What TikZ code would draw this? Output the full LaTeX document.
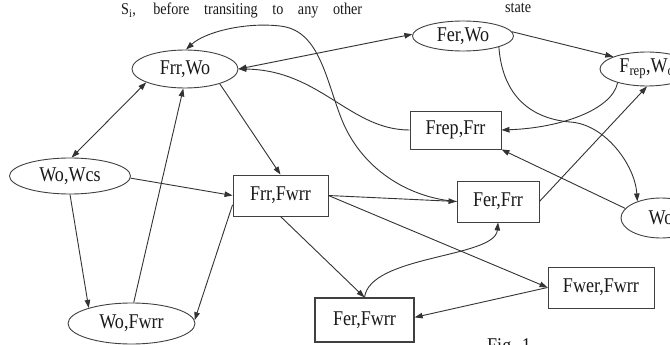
\documentclass[tikz,border=0pt]{standalone}
\usepackage{fontspec}
\setmainfont[FakeStretch=0.86]{Liberation Serif}
\usetikzlibrary{arrows.meta,shapes.geometric}
\begin{document}
\begin{tikzpicture}[x=1pt,y=-1pt,
  every node/.style={font=\fontsize{21}{25}\selectfont, inner sep=0pt, text=black!90},
  stnode/.style={draw=black!75, line width=0.9pt, ellipse},
  stbox/.style={draw=black!75, line width=0.9pt, rectangle},
  conn/.style={draw=black!80, line width=0.9pt, -{Triangle[length=8pt,width=5.5pt]}},
  conn2/.style={draw=black!80, line width=0.9pt, {Triangle[length=8pt,width=5.5pt]}-{Triangle[length=8pt,width=5.5pt]}},
  small/.style={font=\fontsize{16.5}{19}\selectfont}
]
\clip (0,0) rectangle (670,345);
\fill[white] (0,0) rectangle (670,345);

% page text
\node[small, anchor=base west] (hdr) at (121,15) {\makebox[241pt][s]{S\textsubscript{i}, before transiting to any other}};
\node[small, anchor=base west] (hdr2) at (505,13) {state};
\node[anchor=north west] (fig) at (487,338) {Fig. 1};

% ellipses
\node[stnode, minimum width=106pt, minimum height=38pt] (frrwo) at (185,69) {Frr,Wo};
\node[stnode, minimum width=101pt, minimum height=30pt] (ferwo) at (463,36) {Fer,Wo};
\node[stnode, minimum width=94pt, minimum height=34pt] (frepwo) at (647,69) {F\textsubscript{rep},W\textsubscript{o}};
\node[stnode, minimum width=80pt, minimum height=40pt] (wo) at (661,218) {Wo};
\node[stnode, minimum width=121pt, minimum height=36pt] (wowcs) at (70,176) {Wo,Wcs};
\node[stnode, minimum width=127pt, minimum height=41pt] (wofwrr) at (131.5,323.5) {Wo,Fwrr};

% boxes
\node[stbox, minimum width=91pt, minimum height=38pt] (frepfrr) at (455.5,130) {Frep,Frr};
\node[stbox, minimum width=95pt, minimum height=41pt] (frrfwrr) at (280.5,195.5) {Frr,Fwrr};
\node[stbox, minimum width=82pt, minimum height=41pt] (ferfrr) at (498,201.5) {Fer,Frr};
\node[stbox, minimum width=99pt, minimum height=44pt, line width=1.2pt] (ferfwrr) at (364.5,320) {Fer,Fwrr};
\node[stbox, minimum width=106pt, minimum height=41pt] (fwerfwrr) at (601,287.5) {Fwer,Fwrr};

% connectors
\draw[conn2] (frrwo.199) -- (wowcs.85);
\draw[conn] (wofwrr.84) -- (frrwo.265);
\draw[conn] (wowcs.270) -- (wofwrr.160);
\draw[conn] (wowcs.-2) -- (frrfwrr.west);
\draw[conn] (frrfwrr.191) -- (wofwrr.3);
\draw[conn] (frrwo.337) -- (frrfwrr.north);
\draw[conn2] (frrwo.east) -- (ferwo.178);
\draw[conn] (ferfrr.west) .. controls (410,198) and (360,170) .. (340,115)
  .. controls (325,75) and (318,30) .. (280,26)
  .. controls (245,22) and (205,32) .. (frrwo.87);
\draw[conn] (frepfrr.west) .. controls (350,130) and (320,70) .. (frrwo.east);
\draw[conn] (ferwo.5) -- (frepwo.160);
\draw[conn] (frepwo.205) .. controls (612,110) and (560,128) .. (frepfrr.east);
\draw[conn] (ferwo.-17) .. controls (502,90) and (525,118) .. (570,122)
  .. controls (605,124) and (635,165) .. (wo.145);
\draw[conn] (wo.165) -- (frepfrr.south east);
\draw[conn] (ferfrr.east) -- (frepwo.south);
\draw[conn] (frrfwrr.east) -- (ferfrr.west);
\draw[conn] (frrfwrr.east) -- (fwerfwrr.west);
\draw[conn] (frrfwrr.south) -- (ferfwrr.north);
\draw[conn] (ferfwrr.north) .. controls (370,255) and (495,258) .. (ferfrr.south);
\draw[conn] (fwerfwrr.west) -- (ferfwrr.3);
\end{tikzpicture}
\end{document}
